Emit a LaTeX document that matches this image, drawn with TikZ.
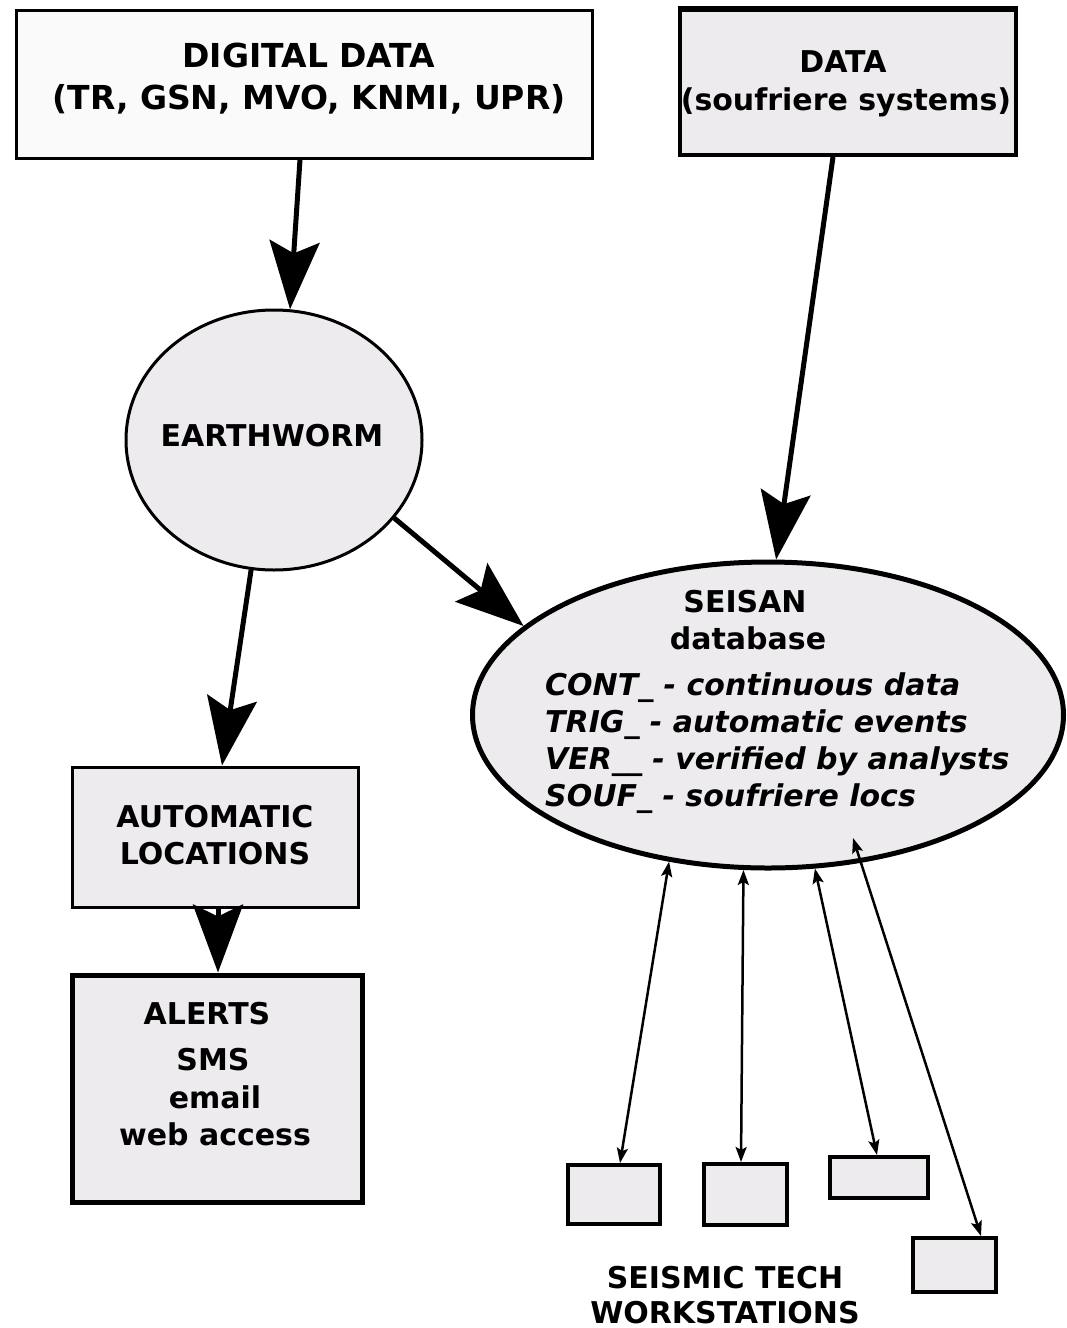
\documentclass[tikz,border=0pt]{standalone}
\usepackage{fontspec}
\setmainfont{DejaVu Sans}
\usetikzlibrary{arrows.meta,shapes.geometric}
\definecolor{lg}{HTML}{EDEBEE}
\definecolor{wh}{HTML}{FAFAFA}
\tikzset{
  box/.style={draw, fill=lg, line width=3pt, rectangle, inner sep=0pt},
  oval/.style={draw, fill=lg, line width=3pt, ellipse, inner sep=0pt},
  txt/.style={anchor=base, inner sep=0pt, font=\fontsize{30}{37}\selectfont\bfseries},
  bigtxt/.style={anchor=base, inner sep=0pt, font=\fontsize{33}{40}\selectfont\bfseries},
  itxt/.style={anchor=base west, inner sep=0pt, font=\fontsize{30}{37}\selectfont\bfseries\itshape},
  bigarrow/.style={line width=5pt, -{Stealth[length=68pt, width=50pt, inset=12pt]}},
  thinarrow/.style={line width=2.5pt, {Stealth[length=15pt, width=11pt, inset=3pt]}-{Stealth[length=15pt, width=11pt, inset=3pt]}}
}
\begin{document}
\begin{tikzpicture}[x=1pt,y=-1pt]
\useasboundingbox[fill=white] (0,0) rectangle (1066,1328);
% shapes
\node[box, fill=wh, minimum width=576pt, minimum height=148pt] (digital) at (304,84) {};
\node[box, line width=4pt, minimum width=336pt, minimum height=145pt] (data) at (848,82.5) {};
\draw[line width=4pt] (data.north west) -- (data.north east);
\node[oval, minimum width=296pt, minimum height=260pt] (earthworm) at (274,440) {};
\node[oval, line width=5pt, minimum width=591pt, minimum height=306pt] (seisan) at (768,715) {};
\node[box, minimum width=286pt, minimum height=140pt] (autoloc) at (215,837) {};
\node[box, line width=5pt, minimum width=290pt, minimum height=227pt] (alerts) at (217,1088.5) {};
\node[box, line width=4pt, minimum width=92pt, minimum height=59pt] (ws1) at (614,1194.5) {};
\node[box, line width=4pt, minimum width=83pt, minimum height=61pt] (ws2) at (745.5,1194.5) {};
\node[box, line width=4pt, minimum width=98pt, minimum height=41pt] (ws3) at (879,1177.5) {};
\node[box, line width=4pt, minimum width=83pt, minimum height=54pt] (ws4) at (954.5,1265) {};
% connectors
\draw[bigarrow] ([xshift=-4pt]digital.south) -- (earthworm.83);
\draw[bigarrow] ([xshift=-15pt]data.south) -- (seisan.87);
\draw[bigarrow] (earthworm.-33) -- (seisan.160);
\draw[bigarrow] (earthworm.-100) -- ([xshift=7pt]autoloc.north);
\draw[bigarrow] ([xshift=3pt]autoloc.south) -- ([xshift=1pt]alerts.north);
\coordinate (s4) at ([shift={(85,123)}]seisan.center);
\draw[thinarrow] (seisan.-124) -- ([xshift=6pt]ws1.north);
\draw[thinarrow] (seisan.-99) -- ([xshift=-4.5pt]ws2.north);
\draw[thinarrow] (seisan.-73.5) -- ([xshift=-2pt]ws3.north);
\draw[thinarrow] (s4) -- ([xshift=26.5pt]ws4.north);
% texts
\node[bigtxt] (t1) at (309,67) {DIGITAL DATA};
\node[bigtxt] (t2) at (309,109) {(TR, GSN, MVO, KNMI, UPR)};
\node[txt] (t3) at (843,72) {DATA};
\node[txt] (t4) at (846,110) {(soufriere systems)};
\node[txt] (t5) at (272,446) {EARTHWORM};
\node[txt] (t6) at (745,612) {SEISAN};
\node[txt] (t7) at (748,649) {database};
\node[itxt] (t8) at (545,695) {CONT\_ - continuous data};
\node[itxt] (t9) at (545,732) {TRIG\_ - automatic events};
\node[itxt] (t10) at (545,769) {VER\_\_ - verified by analysts};
\node[itxt] (t11) at (545,806) {SOUF\_ - soufriere locs};
\node[txt] (t12) at (215,827) {AUTOMATIC};
\node[txt] (t13) at (215,864) {LOCATIONS};
\node[txt] (t14) at (207,1024) {ALERTS};
\node[txt] (t15) at (213,1070) {SMS};
\node[txt] (t16) at (215,1108) {email};
\node[txt] (t17) at (215,1145) {web access};
\node[txt] (t18) at (725,1288) {SEISMIC TECH};
\node[txt] (t19) at (725,1323) {WORKSTATIONS};
\end{tikzpicture}
\end{document}
